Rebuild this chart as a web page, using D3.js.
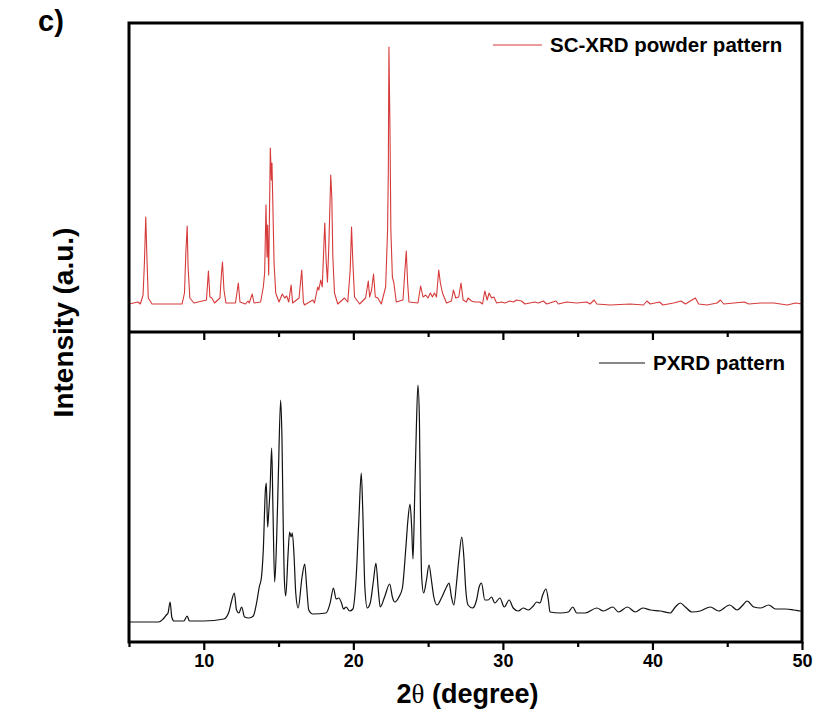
<!DOCTYPE html>
<html><head><meta charset="utf-8">
<script src="https://cdn.jsdelivr.net/npm/d3@7/dist/d3.min.js"></script>
<style>body{margin:0;background:#fff} svg{display:block}</style>
</head><body><svg id="c" width="818" height="720"></svg>
<script>
// ---- data ----
const scTheta = [5.00,5.60,5.76,5.94,6.03,6.12,6.21,6.29,6.54,8.55,
8.71,8.80,8.89,8.95,9.07,9.34,10.18,10.31,10.41,10.54,
10.72,11.08,11.19,11.25,11.35,11.48,12.12,12.31,12.42,12.79,
12.96,13.04,13.24,13.36,13.80,13.98,14.07,14.16,14.23,14.27,
14.34,14.45,14.52,14.56,14.63,14.70,14.81,15.03,15.25,15.41,
15.54,15.68,15.84,15.94,16.37,16.55,16.66,16.73,17.29,17.40,
17.62,17.69,17.82,17.92,18.09,18.18,18.27,18.36,18.49,18.56,
18.63,18.74,18.96,19.41,19.63,19.79,19.88,19.97,20.08,20.42,
20.82,21.00,21.09,21.22,21.35,21.47,21.64,21.87,22.16,22.29,
22.34,22.38,22.45,22.51,22.61,22.71,22.87,23.32,23.45,23.54,
23.63,23.72,24.32,24.50,24.66,24.84,24.99,25.15,25.29,25.42,
25.56,25.71,25.82,25.96,26.23,26.56,26.69,26.85,27.05,27.20,
27.34,27.57,27.67,27.90,28.12,28.46,28.64,28.79,28.95,29.08,
29.24,29.40,29.58,29.91,30.13,30.47,30.69,30.92,31.25,31.47,
32.14,32.37,32.70,32.93,33.55,33.71,34.27,34.94,35.61,35.83,
36.10,36.28,37.17,38.51,39.40,39.63,39.85,40.47,40.70,41.41,
41.91,42.20,42.87,43.09,43.65,44.32,44.54,44.77,45.44,46.15,
46.44,47.23,48.12,49.01,49.57,50.00];
const scIntensity = [28,30,28,37,69,115,69,34,28,28,
39,79,106,65,34,29,32,61,35,34,
29,34,60,70,42,29,29,49,30,28,
31,29,38,29,30,45,59,127,75,107,
57,184,152,169,119,69,39,30,38,34,
36,30,47,29,34,62,30,27,32,29,
45,42,52,45,109,72,50,85,157,135,
75,39,28,34,30,62,105,69,35,28,
34,51,35,42,58,35,34,28,45,102,
162,285,202,102,55,49,30,32,62,81,
49,30,29,46,35,37,34,39,35,39,
35,62,49,39,29,31,42,34,35,49,
32,30,34,31,30,30,28,41,32,39,
34,35,29,30,29,31,30,32,31,28,
30,29,31,28,31,28,30,29,30,28,
32,28,27,28,27,31,28,30,27,29,
31,28,34,28,27,29,32,28,29,30,
28,29,29,27,29,28];

const pxTheta = [5.00,6.99,7.28,7.50,7.61,7.75,7.86,8.00,8.67,8.89,
9.04,10.01,11.35,11.68,11.84,12.04,12.19,12.35,12.53,12.73,
13.02,13.31,13.53,13.71,13.85,13.98,14.12,14.18,14.27,14.34,
14.43,14.54,14.63,14.74,14.87,14.99,15.14,15.23,15.30,15.39,
15.48,15.64,15.74,15.84,15.92,16.04,16.15,16.31,16.57,16.75,
16.88,17.02,17.29,18.18,18.45,18.67,18.85,19.03,19.21,19.34,
19.52,19.75,19.97,20.19,20.37,20.53,20.63,20.77,20.93,21.13,
21.35,21.51,21.67,21.80,22.09,22.43,22.61,22.76,23.05,23.28,
23.50,23.65,23.79,23.90,23.99,24.10,24.21,24.32,24.42,24.48,
24.57,24.70,24.89,25.06,25.22,25.38,25.60,25.89,26.23,26.40,
26.56,26.72,26.90,27.07,27.25,27.39,27.52,27.67,27.97,28.24,
28.41,28.57,28.79,29.01,29.24,29.46,29.80,30.09,30.42,30.69,
31.03,31.36,31.70,32.03,32.26,32.48,32.66,32.88,33.04,33.15,
33.82,34.38,34.67,34.94,35.50,36.28,36.72,37.35,37.73,38.33,
38.85,39.36,39.85,40.52,41.19,41.53,41.86,42.20,42.65,43.20,
43.87,44.43,45.17,45.66,45.99,46.33,46.78,47.22,47.78,48.23,
48.90,49.46,49.91,50.00];
const pxIntensity = [20,20,23,27,29,40,25,21,21,26,
21,21,23,30,40,49,32,29,35,25,
24,26,39,55,64,92,152,159,115,129,
152,194,129,60,102,169,242,202,129,62,
46,89,110,105,109,85,49,34,65,78,
55,32,28,29,39,54,43,44,39,33,
35,31,33,65,122,169,132,55,34,39,
62,79,52,35,45,58,45,40,45,54,
92,122,138,115,83,145,212,257,222,139,
65,49,62,77,62,45,37,44,55,59,
45,37,59,85,105,85,52,37,34,42,
55,59,42,42,45,39,44,35,42,34,
31,34,32,36,40,39,47,53,42,30,
29,30,35,29,29,34,31,35,30,35,
30,34,32,31,29,35,39,35,30,31,
35,31,37,32,36,41,35,34,37,33,
33,32,31,31];

const majorTicks = [10,20,30,40,50];
const minorTicks = [5,15,25,35,45];
const seriesNames = ["SC-XRD powder pattern","PXRD pattern"];
const seriesColors = ["#d63a3a","#111111"];
const panelLabel = "c)";
const yTitle = "Intensity (a.u.)";

// ---- layout ----
const L = 129, R = 802, T = 23, M = 332, B = 642;
const svg = d3.select("#c");
const font = "'Liberation Sans', Arial, Helvetica, sans-serif";

const x = d3.scaleLinear().domain([5, 50]).range([L, R]);
const yTop = d3.scaleLinear().domain([0, 309]).range([M, T]);
const yBot = d3.scaleLinear().domain([0, 310]).range([B, M]);

const defs = svg.append("defs");
defs.append("clipPath").attr("id","clipTop").append("rect")
  .attr("x", L).attr("y", T).attr("width", R - L).attr("height", M - T);
defs.append("clipPath").attr("id","clipBot").append("rect")
  .attr("x", L).attr("y", M).attr("width", R - L).attr("height", B - M);

const topData = d3.zip(scTheta, scIntensity);
const botData = d3.zip(pxTheta, pxIntensity);

svg.append("path").datum(topData)
  .attr("clip-path","url(#clipTop)")
  .attr("fill","none").attr("stroke", seriesColors[0]).attr("stroke-width", 1.1)
  .attr("stroke-linejoin","round")
  .attr("d", d3.line().x(d => x(d[0])).y(d => yTop(d[1])));

svg.append("path").datum(botData)
  .attr("clip-path","url(#clipBot)")
  .attr("fill","none").attr("stroke", seriesColors[1]).attr("stroke-width", 1.2)
  .attr("stroke-linejoin","round")
  .attr("d", d3.line().curve(d3.curveMonotoneX).x(d => x(d[0])).y(d => yBot(d[1])));

// ---- axes ----
function ticks(yPos, values, size, labels) {
  const ax = d3.axisBottom(x).tickValues(values).tickSize(size).tickPadding(4);
  if (!labels) ax.tickFormat("");
  const g = svg.append("g").attr("transform", `translate(0,${yPos})`).call(ax);
  g.select(".domain").remove();
  g.selectAll(".tick line").attr("stroke","#000").attr("stroke-width", 2.2);
  g.selectAll(".tick text").attr("font-family", font).attr("font-weight","bold")
    .attr("font-size", 18).attr("fill","#000");
  return g;
}
ticks(M, majorTicks.filter(v => v < 50), 8, false);
ticks(M, minorTicks.filter(v => v > 5), 5, false);
ticks(B, majorTicks, 8, true);
ticks(B, minorTicks, 5, false);

// frame + divider
svg.append("rect").attr("x", L).attr("y", T).attr("width", R - L).attr("height", B - T)
  .attr("fill","none").attr("stroke","#000").attr("stroke-width", 3);
svg.append("line").attr("x1", L).attr("x2", R).attr("y1", M).attr("y2", M)
  .attr("stroke","#000").attr("stroke-width", 3);

// ---- legends ----
const legends = [
  {name: seriesNames[0], color: seriesColors[0], x1: 493, x2: 542, y: 45},
  {name: seriesNames[1], color: seriesColors[1], x1: 599, x2: 645, y: 363}
];
legends.forEach(l => {
  svg.append("line").attr("x1", l.x1).attr("x2", l.x2).attr("y1", l.y).attr("y2", l.y)
    .attr("stroke", l.color).attr("stroke-width", 1);
  svg.append("text").attr("x", l.x2 + 8).attr("y", l.y + 7)
    .attr("font-family", font).attr("font-weight","bold").attr("font-size", 20.5)
    .attr("fill","#000").text(l.name);
});

// ---- titles ----
const xt = svg.append("text").attr("x", (L + R) / 2 + 2).attr("y", 703)
  .attr("text-anchor","middle").attr("font-family", font).attr("font-weight","bold")
  .attr("font-size", 27).attr("fill","#000");
xt.append("tspan").text("2");
xt.append("tspan").attr("font-family","'Liberation Serif', 'Times New Roman', serif")
  .attr("font-weight","normal").text("θ");
xt.append("tspan").text(" (degree)");

svg.append("text").attr("transform", `translate(73,${(T + B) / 2 - 10}) rotate(-90)`)
  .attr("text-anchor","middle").attr("font-family", font).attr("font-weight","bold")
  .attr("font-size", 28).attr("fill","#000").text(yTitle);

svg.append("text").attr("x", 38).attr("y", 31)
  .attr("font-family", font).attr("font-weight","bold").attr("font-size", 29)
  .attr("fill","#000").text(panelLabel);
</script>
</body></html>
